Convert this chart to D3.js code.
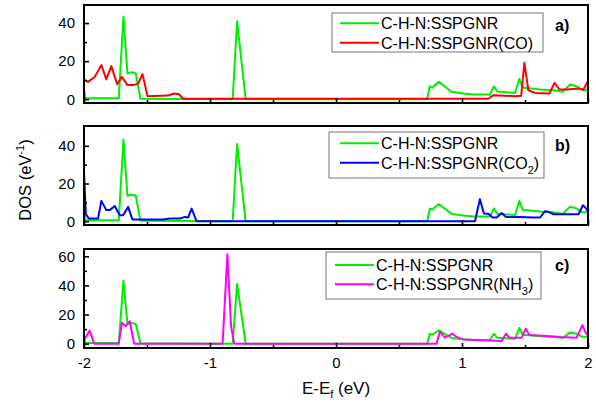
<!DOCTYPE html>
<meta charset="utf-8">
<style>
    body { margin: 0; background: #fff; }
    svg { font-family: "Liberation Sans", Arial, sans-serif; }
    .frame { fill: none; stroke: #000; stroke-width: 2; }
    .axis path { display: none; }
    .axis line { stroke: #000; stroke-width: 1.6; }
    .axis text { font-size: 15px; fill: #000; }
    .dos { fill: none; stroke-width: 2; stroke-linejoin: round; }
    .legend-box { fill: #fff; stroke: #777; stroke-width: 1; }
    .legend text { font-size: 16px; fill: #000; }
    .tag { font-size: 16px; font-weight: bold; }
</style>
<svg width="596" height="413"></svg>
<script src="https://d3js.org/d3.v7.min.js"></script>
<script>

    // pristine C-H-N:SSPGNR (same curve in every panel)
    var pristineE = [-2, -1.99, -1.724, -1.687, -1.655, -1.624, -1.589, -1.552, -0.82, -0.785, -0.717,
        0.723, 0.745, 0.763, 0.816, 0.917, 1.01, 1.089, 1.222, 1.254, 1.28, 1.421, 1.455, 1.482,
        1.62, 1.726, 1.8, 1.858, 1.91, 1.95, 2];
    var pristineDos = [5, 0.5, 0.5, 43.3, 13.5, 14.2, 13.5, 0.2, 0, 41, 0,
        0, 6.8, 6.1, 9.1, 3.9, 3, 2.5, 2.5, 6.8, 4, 3.3, 10.7, 6.1,
        5.1, 4.7, 3.9, 7.7, 6.8, 4.9, 4.7];

    var coE = [-2, -1.968, -1.915, -1.862, -1.823, -1.783, -1.737, -1.698, -1.655, -1.61, -1.57, -1.536,
        -1.496, -1.332, -1.287, -1.247, -1.212, 1.209, 1.248, 1.421, 1.47, 1.495, 1.527, 1.58,
        1.694, 1.734, 1.773, 1.832, 1.925, 1.964, 2];
    var coDos = [10.4, 9.1, 11.7, 17.9, 10.4, 17.4, 7.9, 11.7, 7.4, 7.4, 8.2, 13.2,
        1.6, 1.9, 3, 2.6, 0.2, 0.2, 2.1, 1.6, 1.8, 19.1, 4.7, 3.3,
        3, 8.6, 5.1, 5.1, 5.6, 5.1, 9.6];

    var co2E = [-2, -1.985, -1.96, -1.889, -1.862, -1.823, -1.796, -1.756, -1.716, -1.69, -1.65, -1.616,
        -1.372, -1.318, -1.239, -1.2, -1.173, -1.146, -1.107, 1.103, 1.142, 1.174, 1.209, 1.243,
        1.275, 1.315, 1.349, 1.46, 1.566, 1.62, 1.66, 1.686, 1.726, 1.925, 1.96, 1.986, 2];
    var co2Dos = [26, 3.6, 1.4, 1.4, 10.8, 5.9, 5.9, 8.1, 3.2, 3.2, 7.6, 0.9,
        0.9, 1.4, 1.4, 2.3, 2, 6.7, 0, 0, 11.7, 4.1, 4, 2,
        2, 4.4, 2.3, 2.3, 2, 2, 5.3, 5, 3.7, 3.7, 8.5, 6.7, 5];

    var nh3E = [-2, -1.955, -1.92, -1.724, -1.698, -1.668, -1.637, -1.602, -0.9, -0.862, -0.833, -0.807,
        0.798, 0.824, 0.864, 0.925, 0.957, 1.01, 1.315, 1.349, 1.376, 1.474, 1.506, 1.535,
        1.673, 1.779, 1.91, 1.955, 1.981, 2];
    var nh3Dos = [2.5, 9, 0, 0, 14.3, 12, 15.4, 0, 0, 61.4, 12, 0,
        0, 8.2, 4.1, 6.8, 4.6, 2.9, 1.8, 6.8, 4.1, 4.1, 10.2, 5.9,
        5.3, 4.6, 4.1, 12.7, 7.5, 5.7];

    var xTicks = [-2, -1, 0, 1, 2];

    var pairs = function(e, d) { return e.map(function(v, i) { return [v, d[i]]; }); };

    var panels = [
        {tag: "a)", tagY: 31, top: 5, bottom: 103, ymax: 49.5, ymin: -2, yTicks: [0, 20, 40], yMinor: [10, 30],
         data: pairs(coE, coDos), color: "#ff0000", name: ["C-H-N:SSPGNR(CO)"],
         legend: {x: 332, y: 13, w: 211, h: 39, lx: 340, rows: [23.3, 42.7]}},
        {tag: "b)", tagY: 151, top: 126, bottom: 225, ymax: 50.5, ymin: -2, yTicks: [0, 20, 40], yMinor: [10, 30],
         data: pairs(co2E, co2Dos), color: "#0000ff", name: ["C-H-N:SSPGNR(CO", "2", ")"],
         legend: {x: 329, y: 132, w: 215, h: 46, lx: 340, rows: [143.3, 162.7]}},
        {tag: "c)", tagY: 271, top: 249, bottom: 348, ymax: 65, ymin: -3, yTicks: [0, 20, 40, 60], yMinor: [10, 30, 50],
         data: pairs(nh3E, nh3Dos), color: "#ff00ff", name: ["C-H-N:SSPGNR(NH", "3", ")"],
         legend: {x: 326, y: 252, w: 215, h: 47, lx: 335, rows: [265, 284.3]}}
    ];

    var svg = d3.select("svg"),
        left = 84, right = 588;

    var x = d3.scaleLinear().domain([-2, 2]).range([left, right]);
    var green = pairs(pristineE, pristineDos);

    panels.forEach(function(p, idx) {
        var y = d3.scaleLinear().domain([p.ymin, p.ymax]).range([p.bottom, p.top]);
        var line = d3.line().x(function(d) { return x(d[0]); }).y(function(d) { return y(d[1]); });
        var g = svg.append("g");

        g.append("path").datum(green).attr("class", "dos").attr("stroke", "#00ee00").attr("d", line);
        g.append("path").datum(p.data).attr("class", "dos").attr("stroke", p.color).attr("d", line);

        // inward ticks
        g.append("g").attr("class", "axis")
            .attr("transform", "translate(" + left + ",0)")
            .call(d3.axisLeft(y).tickValues(p.yTicks).tickSize(-5).tickPadding(9));
        g.append("g").attr("class", "axis")
            .attr("transform", "translate(" + left + ",0)")
            .call(d3.axisLeft(y).tickValues(p.yMinor).tickSize(-3).tickFormat(""));
        g.append("g").attr("class", "axis")
            .attr("transform", "translate(0," + p.bottom + ")")
            .call(d3.axisBottom(x).tickValues(xTicks).tickSize(-5).tickPadding(9)
                .tickFormat(idx === 2 ? function(d) { return String(d); } : ""));
        g.append("g").attr("class", "axis")
            .attr("transform", "translate(0," + p.bottom + ")")
            .call(d3.axisBottom(x).tickValues([-1.5, -0.5, 0.5, 1.5]).tickSize(-3).tickFormat(""));

        g.append("rect").attr("class", "frame")
            .attr("x", left).attr("y", p.top)
            .attr("width", right - left).attr("height", p.bottom - p.top);

        // legend
        var L = p.legend;
        var lg = g.append("g").attr("class", "legend");
        lg.append("rect").attr("class", "legend-box")
            .attr("x", L.x).attr("y", L.y).attr("width", L.w).attr("height", L.h);
        var rows = [{c: "#00ee00", t: ["C-H-N:SSPGNR"]}, {c: p.color, t: p.name}];
        rows.forEach(function(r, i) {
            var ly = L.rows[i];
            lg.append("line").attr("x1", L.lx).attr("x2", L.lx + 39)
                .attr("y1", ly).attr("y2", ly)
                .attr("stroke", r.c).attr("stroke-width", 2);
            var t = lg.append("text").attr("x", L.lx + 41).attr("y", ly + 6);
            t.append("tspan").text(r.t[0]);
            if (r.t.length > 1) {
                t.append("tspan").attr("font-size", "11px").attr("dy", 5).text(r.t[1]);
                t.append("tspan").attr("dy", -5).text(r.t[2]);
            }
        });

        g.append("text").attr("class", "tag")
            .attr("x", 555).attr("y", p.tagY).text(p.tag);
    });

    var yl = svg.append("text")
        .attr("transform", "translate(31,180) rotate(-90)")
        .attr("text-anchor", "middle")
        .attr("font-size", "16.5px");
    yl.append("tspan").text("DOS (eV");
    yl.append("tspan").attr("font-size", "11px").attr("dy", -7).text("-1");
    yl.append("tspan").attr("dy", 7).text(")");

    var xl = svg.append("text")
        .attr("x", 336).attr("y", 394)
        .attr("text-anchor", "middle")
        .attr("font-size", "17px");
    xl.append("tspan").text("E-E");
    xl.append("tspan").attr("font-size", "11px").attr("dy", 4).text("f");
    xl.append("tspan").attr("dy", -4).text(" (eV)");

</script>
